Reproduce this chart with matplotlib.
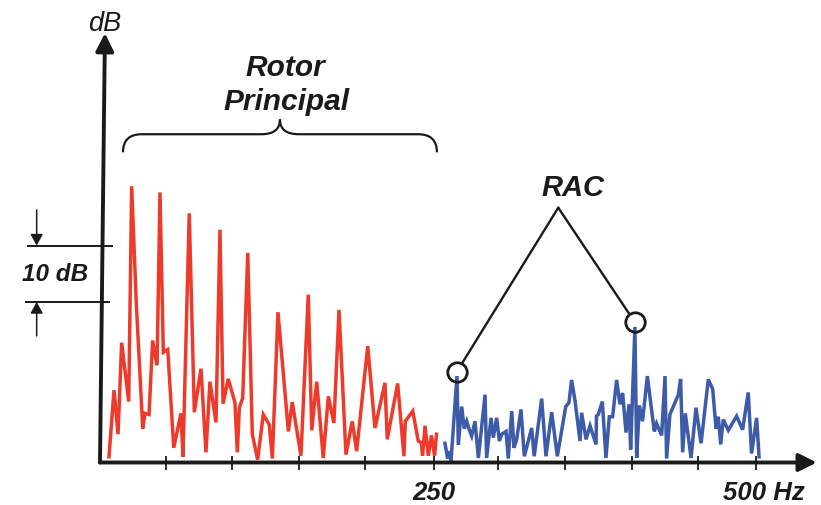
import matplotlib
matplotlib.use("Agg")
import matplotlib.pyplot as plt
from matplotlib.path import Path
from matplotlib.patches import PathPatch

# ---------------- data (frequency in Hz, level in dB above baseline) ----------------
main_rotor_hz = [6.7, 10.5, 13.5, 16.2, 21.5, 23.7, 27.2, 32.0, 33.7, 36.7, 39.4, 42.7, 44.9,
                 47.4, 50.7, 55.2, 60.6, 62.1, 66.8, 70.6, 75.6, 79.3, 82.3, 86.8, 89.8, 92.1,
                 96.0, 101.0, 102.8, 104.3, 106.8, 110.6, 114.0, 118.0, 122.2, 126.7, 129.0,
                 133.2, 141.0, 143.9, 150.4, 155.9, 158.5, 162.2, 167.1, 170.9, 175.1, 178.9,
                 184.1, 188.8, 192.1, 200.4, 205.8, 213.3, 215.0, 222.8, 227.5, 228.5, 234.1,
                 238.2, 240.6, 241.4, 243.3, 245.7, 248.1, 250.4, 251.9]
main_rotor_db = [1.0, 12.8, 5.0, 21.2, 10.8, 48.9, 28.0, 6.0, 8.7, 8.5, 21.6, 17.2, 47.8,
                 19.5, 20.0, 2.6, 8.7, 1.0, 44.1, 8.9, 16.6, 1.8, 14.3, 7.1, 41.2, 10.4,
                 14.8, 10.6, 1.8, 9.7, 11.4, 37.1, 5.0, 0.5, 8.5, 6.7, 0.7,
                 26.6, 5.5, 10.7, 1.2, 29.7, 5.7, 14.3, 0.8, 11.7, 7.0, 27.0,
                 1.4, 7.3, 2.0, 20.6, 6.1, 14.1, 4.1, 14.0, 1.1, 7.3, 9.1,
                 3.8, 3.5, 1.2, 6.5, 1.2, 4.8, 1.2, 5.0]

tail_rotor_hz = [258.2, 260.2, 261.7, 262.7, 267.2, 268.2, 270.7, 272.7, 274.5, 276.4, 278.2,
                 280.7, 283.2, 288.2, 289.4, 292.7, 294.4, 296.9, 298.9, 300.7, 303.9, 305.6,
                 308.2, 309.9, 311.9, 315.1, 317.6, 323.1, 325.0, 330.6, 333.8, 338.1, 342.3,
                 348.6, 351.0, 353.0, 355.5, 359.3, 360.5, 363.8, 366.8, 371.3, 371.6, 373.0,
                 376.0, 378.7, 381.2, 383.7, 386.7, 389.2, 391.2, 393.7, 396.0, 397.2, 400.4,
                 401.7, 403.7, 406.1, 409.7, 414.9, 416.6, 420.4, 422.9, 424.1, 426.6, 432.9,
                 434.6, 436.1, 438.1, 442.4, 446.1, 449.9, 455.3, 458.6, 461.1, 462.8, 464.6,
                 466.5, 470.3, 476.5, 481.0, 485.2, 487.7, 491.5, 493.3]
tail_rotor_db = [3.4, 0.7, 2.0, 0.2, 15.3, 3.1, 9.9, 6.0, 7.3, 5.8, 4.7,
                 7.3, 0.8, 12.0, 0.8, 7.9, 4.4, 7.9, 3.8, 5.0, 5.5, 0.7,
                 9.1, 2.6, 4.1, 9.4, 1.1, 6.1, 1.1, 11.3, 1.1, 8.9, 1.1,
                 9.9, 10.6, 14.6, 11.0, 3.8, 8.8, 4.1, 6.5, 3.2, 8.2, 8.5,
                 10.8, 0.8, 8.1, 8.1, 14.6, 10.3, 12.3, 5.3, 10.3, 2.3, 24.0,
                 0.8, 10.1, 7.3, 15.3, 5.5, 6.9, 4.8, 15.3, 0.7, 8.5, 12.0,
                 14.8, 1.8, 8.7, 0.8, 9.7, 3.4, 14.7, 13.0, 6.0, 8.1, 3.2,
                 7.6, 5.7, 8.2, 5.8, 12.4, 1.6, 7.9, 1.0]

tick_hz = [49.4, 98.8, 149.0, 198.6, 250.0, 298.0, 348.1, 398.4, 447.6, 491.0]
ref_levels_db = [28.4, 38.4]          # the "10 dB" scale marks
rac_peaks_idx = [4, 54]               # indices in tail_rotor arrays marked as RAC

RED = "#EE3A2A"
BLUE = "#3D5BA8"
INK = "#1A1A1A"

# ---------------- figure ----------------
fig = plt.figure(figsize=(8.21, 5.06), dpi=100)
ax = fig.add_axes([0, 0, 1, 1])
px_per_hz = 1.336
px_per_db = 5.65
x0_px, y0_px = 100.0, 463.5
ax.set_xlim(-x0_px / px_per_hz, (821 - x0_px) / px_per_hz)
ax.set_ylim((y0_px - 506) / px_per_db, y0_px / px_per_db)
for s in ax.spines.values():
    s.set_visible(False)
ax.set_yticks([])
ax.spines['bottom'].set_position(('data', 0))
ax.set_xticks(tick_hz)
ax.set_xticklabels([])
ax.tick_params(axis='x', direction='inout', length=9.5, width=1.3, color=INK)

bold_it = dict(family="Liberation Sans", weight="bold", style="italic", color=INK)

# series
ax.plot(main_rotor_hz, main_rotor_db, color=RED, lw=2.5, solid_joinstyle='miter', zorder=3)
ax.plot(tail_rotor_hz, tail_rotor_db, color=BLUE, lw=2.5, solid_joinstyle='miter', zorder=3)

# axes arrows
head = "-|>,head_length=0.36,head_width=0.18"
ax.annotate("", xy=(536.5, 0), xytext=(0, 0),
            arrowprops=dict(arrowstyle=head, mutation_scale=30, lw=2.8, color=INK,
                            shrinkA=0, shrinkB=0), zorder=4)
ax.annotate("", xy=(3.7, 76.0), xytext=(0, 0),
            arrowprops=dict(arrowstyle=head, mutation_scale=30, lw=2.8, color=INK,
                            shrinkA=0, shrinkB=0), zorder=4)
ax.text(3.7, 76.6, "dB", family="Liberation Sans", style="italic", fontsize=19.5,
        color=INK, ha="center", va="baseline")

# x labels
ax.text(250.0, -6.4, "250", fontsize=18.5, ha="center", va="baseline", **bold_it)
ax.text(497.0, -6.4, "500 Hz", fontsize=18.5, ha="center", va="baseline", **bold_it)

# 10 dB scale marks
ax.hlines(ref_levels_db[1], -54.6, 9.7, color=INK, lw=1.4, zorder=4)
ax.hlines(ref_levels_db[0], -56.1, 7.5, color=INK, lw=1.4, zorder=4)
small = "-|>,head_length=0.45,head_width=0.25"
ax.annotate("", xy=(-47.4, ref_levels_db[1]), xytext=(-47.4, ref_levels_db[1] + 6.3),
            arrowprops=dict(arrowstyle=small, mutation_scale=15, lw=1.1, color=INK,
                            shrinkA=0, shrinkB=0))
ax.annotate("", xy=(-47.4, ref_levels_db[0]), xytext=(-47.4, ref_levels_db[0] - 6.0),
            arrowprops=dict(arrowstyle=small, mutation_scale=15, lw=1.1, color=INK,
                            shrinkA=0, shrinkB=0))
ax.text(-33.7, sum(ref_levels_db) / 2, "10 dB", fontsize=17.5, ha="center",
        va="center", **bold_it)

# Rotor Principal label with curly brace
ax.text(138.5, 68.6, "Rotor", fontsize=21.5, ha="center", va="baseline", **bold_it)
ax.text(139.2, 62.5, "Principal", fontsize=21.5, ha="center", va="baseline", **bold_it)
xl, xr, xm = 17.2, 252.2, 134.7
yb, yf, yt = 54.9, 58.1, 60.7
w = 14.0
verts = [(xl, yb), (xl, yf), (xl + w, yf),
         (xm - w, yf),
         (xm, yf), (xm, yt),
         (xm, yf), (xm + w, yf),
         (xr - w, yf),
         (xr, yf), (xr, yb)]
codes = [Path.MOVETO, Path.CURVE3, Path.CURVE3,
         Path.LINETO,
         Path.CURVE3, Path.CURVE3,
         Path.CURVE3, Path.CURVE3,
         Path.LINETO,
         Path.CURVE3, Path.CURVE3]
ax.add_patch(PathPatch(Path(verts, codes), fill=False, lw=1.6, edgecolor=INK))

# RAC label, leader lines and circles
apex = (343.0, 45.1)
ax.text(353.7, 47.4, "RAC", fontsize=21, ha="center", va="baseline", **bold_it)
for i in rac_peaks_idx:
    cx, cy = tail_rotor_hz[i], tail_rotor_db[i] + 0.8
    ax.plot([cx], [cy], marker="o", ms=14, mfc="none", mec=INK, mew=2.0, zorder=5)
    ax.annotate("", xy=(cx, cy), xytext=apex,
                arrowprops=dict(arrowstyle="-", lw=1.7, color=INK, shrinkA=0, shrinkB=7.5))

fig.savefig("out.png", dpi=100)
